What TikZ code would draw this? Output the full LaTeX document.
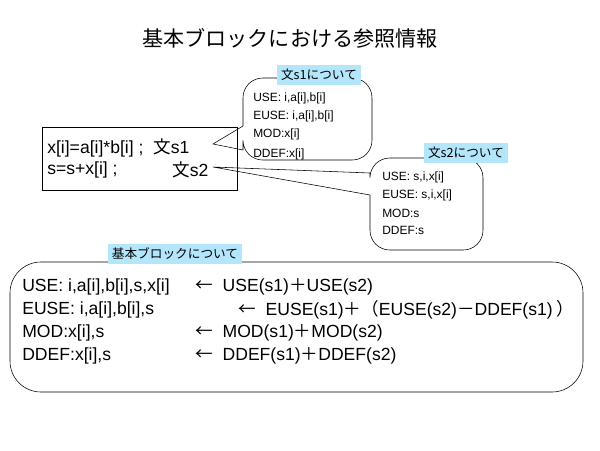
\documentclass[tikz,border=0pt]{standalone}
\usepackage{fontspec}
\setmainfont{Liberation Sans}
\newfontfamily\cjk{Noto Sans CJK JP}
\begin{document}
\begin{tikzpicture}[x=0.025cm,y=-0.025cm,
  every node/.style={inner sep=0pt},
  tag/.style={fill=cyan!30!white,minimum height=20*0.025cm,inner xsep=3pt,font=\cjk\fontsize{9}{10}\selectfont},
  small/.style={anchor=west,font=\fontsize{8.5}{10}\selectfont},
  row/.style={anchor=west,font=\fontsize{12.5}{14}\selectfont}]
\useasboundingbox (0,0) rectangle (600,450);

\node (title) at (290,38) {\cjk\fontsize{15}{17}\selectfont 基本ブロックにおける参照情報};

% code box
\draw (42,127) rectangle (237,190);
\node[row] (s1) at (47,148) {x[i]=a[i]*b[i] ;\ \ {\cjk 文}s1};
\node[row] (s2) at (47,170) {s=s+x[i] ;};
\node[row] (s2b) at (172,170) {{\cjk 文}s2};
\coordinate (t1) at (213,144);
\coordinate (t2) at (213,167);

% callout s1
\draw[rounded corners=14] (243,126) -- (243,78) -- (372,78) -- (372,160) -- (243,160) [sharp corners] -- (243,150) -- (t1) -- cycle;
\node[tag] (c1) at (319,75) {文s1について};
\node[small] (u1) at (253,98) {USE: i,a[i],b[i]};
\node[small] (e1) at (253,116) {EUSE: i,a[i],b[i]};
\node[small] (m1) at (253,134) {MOD:x[i]};
\node[small] (d1) at (253,154) {DDEF:x[i]};

% callout s2
\draw[rounded corners=14] (370,173) -- (370,158) -- (483,158) -- (483,250) -- (370,250) [sharp corners] -- (370,195) -- (t2) -- cycle;
\node[tag] (c2) at (466,153) {文s2について};
\node[small] (u2) at (382,177) {USE: s,i,x[i]};
\node[small] (e2) at (382,195) {EUSE: s,i,x[i]};
\node[small] (m2) at (382,213) {MOD:s};
\node[small] (d2) at (382,230) {DDEF:s};

% basic block
\draw[rounded corners=22] (10,262) rectangle (583,392);
\node[tag] (cb) at (175,254) {基本ブロックについて};
\node[row] (ul) at (22,287) {USE: i,a[i],b[i],s,x[i]};
\node[row] (ur) at (195,287) {{\cjk ←}\ \ USE(s1){\cjk ＋}USE(s2)};
\node[row] (el) at (22,310) {EUSE: i,a[i],b[i],s};
\node[row] (er) at (238,310) {{\cjk ←}\ \ EUSE(s1){\cjk ＋（}EUSE(s2){\cjk －}DDEF(s1){\cjk \ ）}};
\node[row] (ml) at (22,333) {MOD:x[i],s};
\node[row] (mr) at (195,333) {{\cjk ←}\ \ MOD(s1){\cjk ＋}MOD(s2)};
\node[row] (dl) at (22,356) {DDEF:x[i],s};
\node[row] (dr) at (195,356) {{\cjk ←}\ \ DDEF(s1){\cjk ＋}DDEF(s2)};
\end{tikzpicture}
\end{document}
